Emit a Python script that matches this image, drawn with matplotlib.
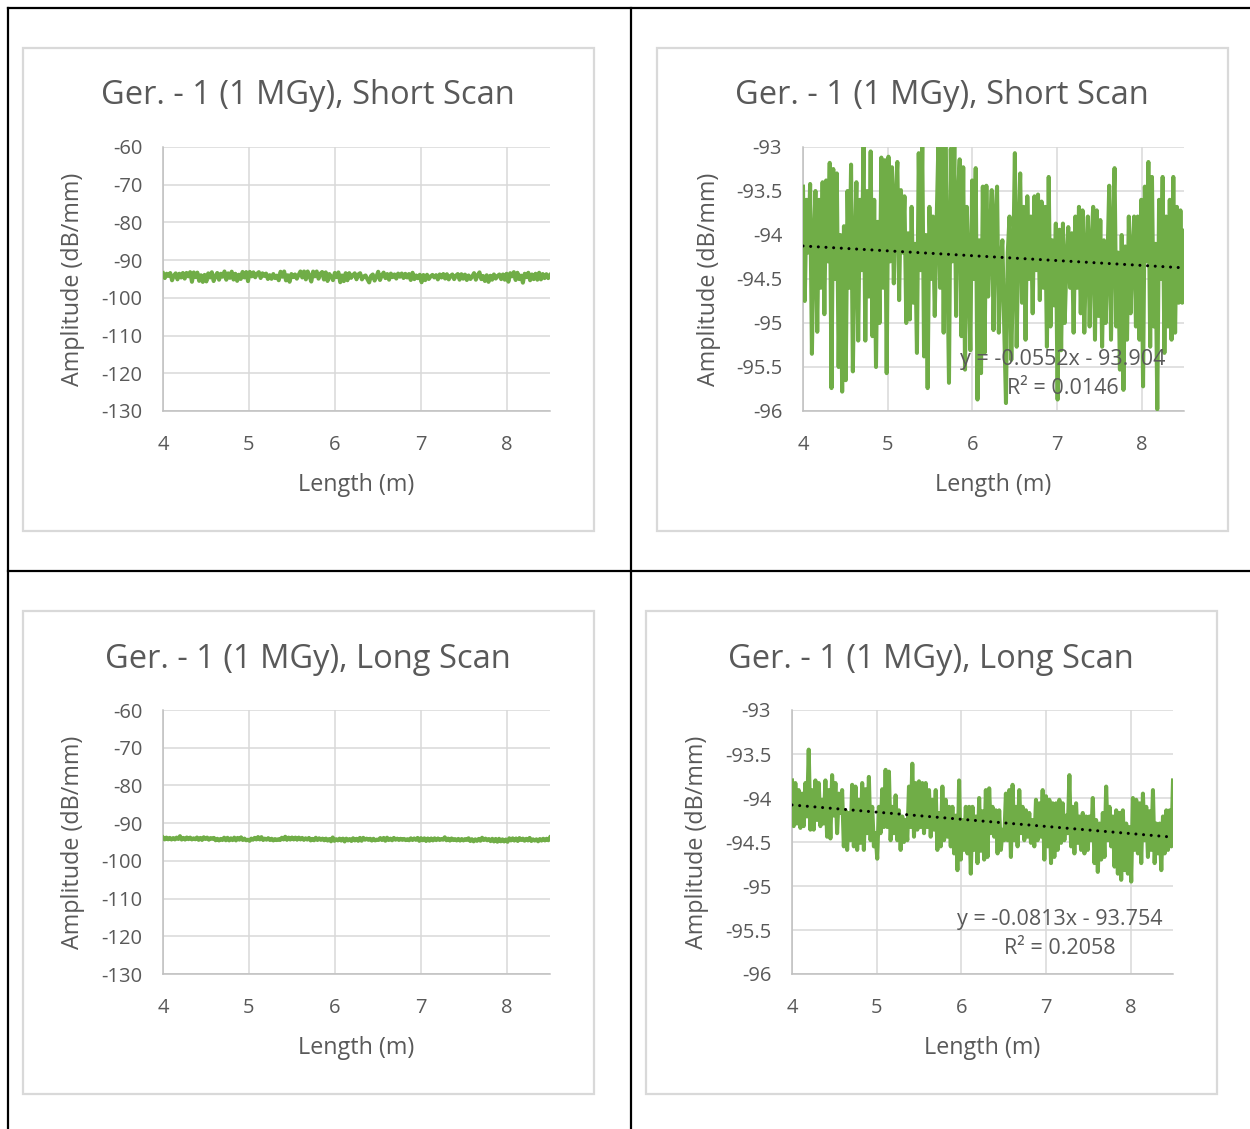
import numpy as np
import matplotlib
matplotlib.use("Agg")
import matplotlib.pyplot as plt
from matplotlib.patches import Rectangle
from matplotlib.lines import Line2D

plt.rcParams['font.family'] = ['Open Sans', 'DejaVu Sans']

# ---- data: backscatter amplitude along the fibre, 4.0 m to 8.5 m ----
x_start, x_end = 4.0, 8.5

amp_short = [
    -93.45, -94.75, -93.60, -94.20, -93.42, -95.35, -94.10, -93.50, -95.10, -93.60,
    -94.60, -93.40, -94.90, -93.38, -94.30, -93.18, -95.74, -93.25, -94.50, -93.30,
    -95.50, -94.00, -95.78, -93.90, -95.65, -93.50, -94.60, -93.20, -95.55, -94.20,
    -93.40, -95.20, -93.60, -94.40, -93.00, -95.20, -93.50, -94.70, -93.05, -95.15,
    -93.60, -95.50, -93.85, -95.00, -93.12, -94.60, -93.15, -95.57,
    -93.11, -94.30, -93.23, -94.55, -93.60, -93.17, -94.74, -93.49, -94.20, -93.56,
    -95.00, -93.98, -94.96, -93.68, -94.77, -94.10, -95.34, -93.07, -94.40, -93.00,
    -95.38, -94.00, -95.74, -93.68, -94.50, -93.79, -94.92, -93.90, -93.00, -94.60,
    -93.00, -95.11, -93.00, -94.20, -95.68, -93.02, -94.30, -93.00, -94.92, -93.60,
    -93.14, -95.15, -93.23, -95.53, -93.68, -94.40, -95.31, -93.38, -94.50, -93.24,
    -95.87, -94.06, -95.57, -93.45, -95.34,
    -93.44, -94.70, -94.00, -93.49, -95.08, -93.80, -93.45, -95.11, -94.30, -94.06,
    -95.04, -95.91, -94.20, -93.79, -95.42, -94.40, -93.07, -95.27, -94.00, -93.30,
    -94.77, -93.68, -95.19, -93.56, -94.50, -93.79, -94.89, -93.56, -94.40, -93.54,
    -94.74, -93.62, -94.60, -93.68, -95.27, -93.34, -95.04, -94.06, -94.80, -93.87,
    -95.87, -93.94, -95.31, -93.87, -95.00, -94.30, -93.91, -94.60, -93.98, -95.11,
    -93.79, -94.60, -93.68, -94.89,
    -93.72, -95.11, -94.20, -93.79, -95.04, -94.10, -93.68, -95.19, -93.72, -94.92,
    -93.83, -95.27, -94.06, -95.00, -94.30, -93.44, -95.19, -94.00, -93.24, -95.04,
    -94.20, -95.53, -94.00, -95.76, -94.13, -95.19, -93.79, -94.89, -94.20, -93.79,
    -95.04, -93.79, -95.19, -93.60, -95.72, -93.45, -94.30, -93.17, -95.27, -93.34,
    -95.04, -94.10, -95.98, -93.60, -94.50, -93.34, -95.34, -93.79, -95.04, -93.60,
    -95.19, -93.34, -95.11, -93.68, -94.77, -93.72, -94.77, -93.95,
]

amp_long = [
    -93.80, -94.32, -93.83, -94.29, -93.91, -94.34, -93.95, -94.32, -93.83, -94.21,
    -93.45, -94.36, -93.91, -94.36, -93.80, -94.25, -93.83, -94.32, -94.02, -94.29,
    -93.80, -94.44, -93.91, -94.46, -93.74, -94.20, -93.83, -94.40, -93.95, -94.17,
    -93.91, -94.55, -94.14, -94.59, -94.17, -94.48, -93.85, -94.55, -93.87, -94.59,
    -94.02, -94.51, -93.83, -94.59, -93.90, -94.40, -93.76, -94.48, -94.10, -94.55,
    -94.40, -94.69, -94.10, -94.40, -93.90, -94.33, -93.68, -94.33, -93.70, -94.48,
    -94.10, -94.40, -93.97, -94.48, -94.14, -94.59, -94.21, -94.50, -94.25, -94.48,
    -93.87, -94.33, -93.61, -94.44, -93.83, -94.36, -93.81, -94.33, -93.83, -94.40,
    -93.83, -94.33, -93.91, -94.44, -94.02, -94.36, -93.91, -94.59, -94.17, -94.55,
    -93.87, -94.48, -94.02, -94.44, -94.10, -94.55, -94.10, -94.63, -94.20, -94.82,
    -93.80, -94.70, -94.25, -94.59, -94.10, -94.63, -94.10, -94.86, -94.10, -94.59,
    -94.21, -94.74, -94.00, -94.60, -94.15, -94.70, -93.91, -94.67,
    -93.89, -94.40, -94.10, -94.44, -94.14, -94.63, -94.14, -94.59, -94.36, -94.48,
    -93.95, -94.48, -93.91, -94.67, -93.85, -94.48, -94.10, -94.55, -93.91, -94.40,
    -94.10, -94.48, -94.14, -94.44, -94.17, -94.51, -94.25, -94.55, -94.02, -94.48,
    -94.06, -94.44, -93.91, -94.70, -93.98, -94.55, -94.02, -94.74, -94.06, -94.67,
    -94.06, -94.59, -94.02, -94.51, -94.06, -94.48, -94.20, -94.40, -93.74, -94.55,
    -94.10, -94.63, -94.06, -94.51, -94.21, -94.59, -94.17, -94.63, -94.21, -94.59,
    -94.21, -94.48, -94.00, -94.74, -94.25, -94.84, -94.29, -94.70, -94.17, -94.67,
    -93.87, -94.48, -94.10, -94.55, -94.21, -94.78, -94.14, -94.86, -94.17, -94.93,
    -94.14, -94.82, -94.29, -94.86, -94.33, -94.95, -94.00, -94.59, -94.02, -94.63,
    -94.06, -94.74, -93.95, -94.48, -94.10, -94.67, -94.15, -94.59, -93.91, -94.74,
    -94.29, -94.63, -94.29, -94.82, -94.21, -94.63, -94.14, -94.59, -94.14, -94.55,
    -93.80,
]

# linear trendline coefficients (slope, intercept, R²)
trend_short = (-0.0552, -93.904, 0.0146)
trend_long = (-0.0813, -93.754, 0.2058)

titles = ["Ger. - 1 (1 MGy), Short Scan", "Ger. - 1 (1 MGy), Long Scan"]
x_ticks = [4, 5, 6, 7, 8]
wide_y_ticks = [-60, -70, -80, -90, -100, -110, -120, -130]
narrow_y_ticks = [-93, -93.5, -94, -94.5, -95, -95.5, -96]
x_label = "Length (m)"
y_label = "Amplitude (dB/mm)"

# ---- styling ----
W, H = 1250, 1129
GREEN = "#70ad47"
TXT = "#595959"
GRID = "#d9d9d9"
SPINE = "#bfbfbf"

fig = plt.figure(figsize=(W / 100, H / 100), dpi=100)
fig.patch.set_facecolor("white")


def fx(px):
    return px / W


def fy(py):
    return 1 - py / H


def axes_at(x0, x1, y0, y1):
    return fig.add_axes([fx(x0), fy(y1), (x1 - x0) / W, (y1 - y0) / H])


def tick_fmt(v):
    return f"{v:g}"


def panel(plot_box, frame_box, title, title_cx, ylab_cx, values, yticks, trend=None, trend_pos=None):
    x0, x1, y0, y1 = plot_box
    fx0, fx1, fy0, fy1 = frame_box
    fig.add_artist(Rectangle((fx(fx0), fy(fy1)), (fx1 - fx0) / W, (fy1 - fy0) / H,
                             transform=fig.transFigure, facecolor="white",
                             edgecolor=GRID, lw=1.6, zorder=0))
    ax = axes_at(x0, x1, y0, y1)
    xs = np.linspace(x_start, x_end, len(values))
    ax.plot(xs, values, color=GREEN, lw=2.9, solid_joinstyle="round", zorder=3)
    if trend is not None:
        m, b, r2 = trend
        tx = np.array([x_start, x_end])
        ax.plot(tx, m * tx + b, color="black", lw=2.2, linestyle=(0, (0.01, 2.5)),
                dash_capstyle="round", zorder=4)
    ax.set_xlim(x_start, x_end)
    ax.set_ylim(min(yticks), max(yticks))
    ax.set_xticks(x_ticks)
    ax.set_yticks(yticks)
    ax.set_xticklabels([tick_fmt(t) for t in x_ticks])
    ax.set_yticklabels([tick_fmt(t) for t in yticks])
    ax.tick_params(axis="y", length=0, labelsize=14.5, labelcolor=TXT, pad=15)
    ax.tick_params(axis="x", length=0, labelsize=14.5, labelcolor=TXT, pad=17)
    ax.grid(True, color=GRID, lw=1.1, zorder=0)
    ax.set_axisbelow(True)
    for s in ("top", "right"):
        ax.spines[s].set_visible(False)
    for s in ("left", "bottom"):
        ax.spines[s].set_color(SPINE)
        ax.spines[s].set_linewidth(1.1)
    fig.text(fx(title_cx), fy(y0 - 51), title, ha="center", va="center",
             fontsize=23.5, color=TXT)
    fig.text(fx(ylab_cx), fy((y0 + y1) / 2), y_label, rotation=90, ha="center",
             va="center", fontsize=16.8, color=TXT)
    fig.text(fx((x0 + x1) / 2), fy(y1 + 74), x_label, ha="center", va="center",
             fontsize=16.8, color=TXT)
    if trend is not None:
        m, b, r2 = trend
        cx, cy = trend_pos
        eq = f"y = {m:g}x - {abs(b):g}"
        fig.text(fx(cx), fy(cy), eq, ha="center", va="center", fontsize=15.5,
                 color=TXT, zorder=10)
        fig.text(fx(cx), fy(cy + 29), f"R² = {r2:.4f}", ha="center", va="center",
                 fontsize=15.5, color=TXT, zorder=10)
    return ax


panel((163, 550, 147, 411), (23, 594, 48, 531), titles[0], 308, 73, amp_short, wide_y_ticks)
panel((803, 1184, 147, 411), (657, 1228, 48, 531), titles[0], 942, 709, amp_short,
      narrow_y_ticks, trend_short, (1063, 359))
panel((163, 550, 710, 974), (23, 594, 611, 1094), titles[1], 308, 73, amp_long, wide_y_ticks)
panel((792, 1173, 710, 974), (646, 1217, 611, 1094), titles[1], 931, 697, amp_long,
      narrow_y_ticks, trend_long, (1060, 919))

# table borders around the four charts
for (xa, ya, xb, yb) in [(8, 8, 1250, 8), (8, 8, 8, 1129), (631, 8, 631, 1129), (8, 571, 1250, 571)]:
    fig.add_artist(Line2D([fx(xa), fx(xb)], [fy(ya), fy(yb)], transform=fig.transFigure,
                          color="black", lw=1.6))

fig.savefig("out.png", dpi=100, facecolor="white")
